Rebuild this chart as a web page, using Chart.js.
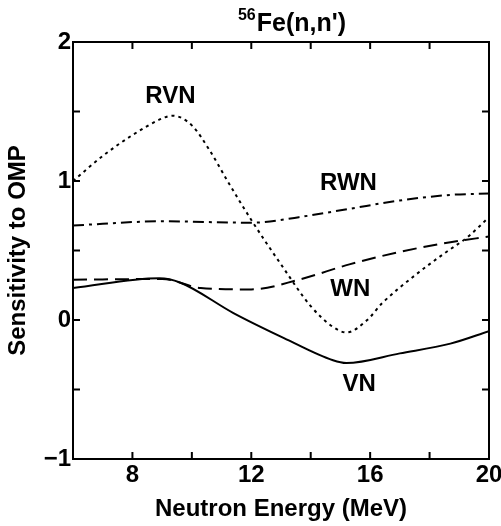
<!DOCTYPE html>
<html>
<head>
<meta charset="utf-8">
<script src="https://cdn.jsdelivr.net/npm/chart.js@4/dist/chart.umd.min.js"></script>
<style>
    html, body { margin: 0; padding: 0; background: #fff; }
    canvas { display: block; }
</style>
</head>
<body>
<canvas id="chart" width="501" height="526"></canvas>
<script>
// curves (energy in MeV, sensitivity)
const rvnEnergy = [6, 7, 8, 9, 9.35, 10, 10.6, 11.2, 12, 13, 14, 14.75, 15.2, 15.9, 16.4, 17.5, 18.5, 19.3, 20];
const rvnValues = [1.0, 1.18, 1.33, 1.45, 1.47, 1.40, 1.22, 1.0, 0.72, 0.40, 0.10, -0.05, -0.09, 0.0, 0.12, 0.32, 0.48, 0.6, 0.74];

const rwnEnergy = [6, 9, 12, 13.6, 15.3, 17, 18.7, 20];
const rwnValues = [0.68, 0.71, 0.70, 0.74, 0.80, 0.86, 0.90, 0.91];

const wnEnergy = [6, 9, 10.3, 12, 13.6, 15.3, 17, 18.7, 20];
const wnValues = [0.29, 0.295, 0.23, 0.22, 0.29, 0.40, 0.49, 0.56, 0.60];

const vnEnergy = [6, 8.9, 9.6, 11.4, 13.1, 14.75, 15.2, 17, 18.7, 20];
const vnValues = [0.23, 0.30, 0.27, 0.05, -0.13, -0.29, -0.31, -0.24, -0.17, -0.08];

// curve names and where they are written
const curveLabels = ['RVN', 'RWN', 'WN', 'VN'];
const labelEnergy = [9.28, 15.27, 15.33, 15.63];
const labelValue = [1.61, 0.98, 0.22, -0.46];

const xTicks = [8, 12, 16, 20];
const xMinorTicks = [8, 10, 12, 14, 16, 18];
const yTicks = [-1, 0, 1, 2];
const yMinorTicks = [-0.5, 0, 0.5, 1, 1.5];

const FONT = '"Liberation Sans", Arial, sans-serif';

function points(xs, ys) {
    return xs.map((x, i) => ({ x: x, y: ys[i] }));
}

function curve(label, xs, ys, dash) {
    return {
        label: label,
        data: points(xs, ys),
        borderColor: '#000',
        borderWidth: 2,
        borderDash: dash,
        pointRadius: 0,
        fill: false,
        cubicInterpolationMode: 'monotone'
    };
}

// bordes, marcas hacia dentro, nombres de las curvas y título
const framePlugin = {
    id: 'frame',
    afterDraw(chart) {
        const ctx = chart.ctx;
        const area = chart.chartArea;
        const xs = chart.scales.x;
        const ys = chart.scales.y;

        ctx.save();
        ctx.strokeStyle = '#000';
        ctx.lineWidth = 2;
        ctx.setLineDash([]);
        ctx.strokeRect(area.left, area.top, area.right - area.left, area.bottom - area.top);

        ctx.beginPath();
        xMinorTicks.forEach(v => {
            const px = xs.getPixelForValue(v);
            ctx.moveTo(px, area.bottom);
            ctx.lineTo(px, area.bottom - 7);
            ctx.moveTo(px, area.top);
            ctx.lineTo(px, area.top + 7);
        });
        yMinorTicks.forEach(v => {
            const py = ys.getPixelForValue(v);
            ctx.moveTo(area.left, py);
            ctx.lineTo(area.left + 7, py);
            ctx.moveTo(area.right, py);
            ctx.lineTo(area.right - 7, py);
        });
        ctx.stroke();

        ctx.fillStyle = '#000';
        ctx.textAlign = 'center';
        ctx.textBaseline = 'middle';
        ctx.font = 'bold 24px ' + FONT;
        curveLabels.forEach((txt, i) => {
            ctx.fillText(txt, xs.getPixelForValue(labelEnergy[i]), ys.getPixelForValue(labelValue[i]));
        });

        // ⁵⁶Fe(n,n') con superíndice
        const sup = '56';
        const main = "Fe(n,n')";
        ctx.textAlign = 'left';
        ctx.textBaseline = 'alphabetic';
        ctx.font = 'bold 16px ' + FONT;
        const supW = ctx.measureText(sup).width;
        ctx.font = 'bold 25px ' + FONT;
        const mainW = ctx.measureText(main).width;
        const cx = (area.left + area.right) / 2 + 11;
        const x0 = cx - (supW + 1 + mainW) / 2;
        ctx.font = 'bold 16px ' + FONT;
        ctx.fillText(sup, x0, 20);
        ctx.font = 'bold 25px ' + FONT;
        ctx.fillText(main, x0 + supW + 1, 31);
        ctx.restore();
    }
};

const ctx = document.getElementById('chart').getContext('2d');
const chart = new Chart(ctx, {
    type: 'line',
    data: {
        datasets: [
            curve('RVN', rvnEnergy, rvnValues, [3, 4]),
            curve('RWN', rwnEnergy, rwnValues, [11, 5, 3, 5]),
            curve('WN', wnEnergy, wnValues, [14, 7]),
            curve('VN', vnEnergy, vnValues, [])
        ]
    },
    options: {
        responsive: false,
        animation: false,
        layout: {
            padding: { top: 42, right: 12, left: 0, bottom: 0 }
        },
        scales: {
            x: {
                type: 'linear',
                min: 6,
                max: 20,
                afterBuildTicks: (scale) => {
                    scale.ticks = xTicks.map(v => ({ value: v }));
                },
                afterFit: (scale) => {
                    scale.height = 67;
                    scale.paddingRight = 0;
                },
                grid: { display: false, drawTicks: false },
                border: { display: false },
                ticks: {
                    color: '#000',
                    padding: 2,
                    maxRotation: 0,
                    font: { family: FONT, size: 24, weight: 'bold' }
                },
                title: {
                    display: true,
                    text: 'Neutron Energy (MeV)',
                    color: '#000',
                    padding: { top: 0, bottom: 2 },
                    font: { family: FONT, size: 24, weight: 'bold' }
                }
            },
            y: {
                min: -1,
                max: 2,
                afterBuildTicks: (scale) => {
                    scale.ticks = yTicks.map(v => ({ value: v }));
                },
                afterFit: (scale) => {
                    scale.width = 73;
                },
                grid: { display: false, drawTicks: false },
                border: { display: false },
                ticks: {
                    color: '#000',
                    padding: 2,
                    font: { family: FONT, size: 24, weight: 'bold' },
                    callback: (v) => String(v).replace('-', '\u2212')
                },
                title: {
                    display: true,
                    text: 'Sensitivity to OMP',
                    color: '#000',
                    padding: { top: 4, bottom: 0 },
                    font: { family: FONT, size: 24, weight: 'bold' }
                }
            }
        },
        plugins: {
            legend: { display: false },
            tooltip: { enabled: false },
            title: { display: false }
        }
    },
    plugins: [framePlugin]
});
</script>
</body>
</html>
